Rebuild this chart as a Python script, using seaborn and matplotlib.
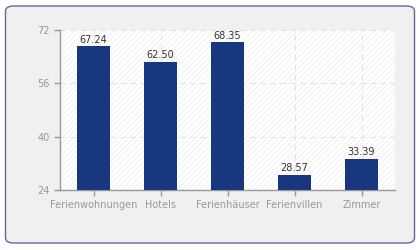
import matplotlib
matplotlib.use("Agg")
import matplotlib.pyplot as plt
import seaborn as sns
import pandas as pd
from matplotlib.patches import FancyBboxPatch, Rectangle

categories = ["Ferienwohnungen", "Hotels", "Ferienhäuser", "Ferienvillen", "Zimmer"]
values = [67.24, 62.50, 68.35, 28.57, 33.39]
yticks = [24, 40, 56, 72]

df = pd.DataFrame({"cat": categories, "val": values})

sns.set_style("white")
plt.rcParams['font.family'] = ['DejaVu Sans']
plt.rcParams['hatch.color'] = '#efefef'
plt.rcParams['hatch.linewidth'] = 0.6

fig = plt.figure(figsize=(4.2, 2.5), dpi=100)
fig.patch.set_facecolor("white")
frame = FancyBboxPatch((5.5 / 420, 7 / 250), 409 / 420, 237 / 250,
                       boxstyle="round,pad=0,rounding_size=0.02",
                       transform=fig.transFigure, facecolor="#f0f0f0",
                       edgecolor="#5b6b9b", linewidth=1.0, zorder=-10)
fig.patches.append(frame)

ax = fig.add_axes([60 / 420, 60 / 250, 335 / 420, 160 / 250])
ax.set_facecolor("white")
ax.add_patch(Rectangle((0, 0), 1, 1, transform=ax.transAxes, facecolor="white",
                       edgecolor="#eeeeee", hatch="//////", linewidth=0, zorder=0))

sns.barplot(data=df, x="cat", y="val", color="#17387f", width=0.5, ax=ax,
            saturation=1, linewidth=0.0, zorder=3)

ax.set_ylim(24, 72)
ax.set_xlim(-0.5, 4.5)
ax.set_yticks(yticks)
ax.set_xlabel("")
ax.set_ylabel("")

ax.grid(True, axis="both", linestyle=(0, (5, 4)), color="#e2e2e2", linewidth=0.8, zorder=1)
ax.set_axisbelow(True)

for s in ["top", "right"]:
    ax.spines[s].set_visible(False)
for s in ["left", "bottom"]:
    ax.spines[s].set_color("#999999")
    ax.spines[s].set_linewidth(1.0)

ax.tick_params(axis="both", colors="#999999", labelcolor="#999999", labelsize=7,
               length=4, width=1, direction="out", left=True, bottom=True)

for i, v in enumerate(values):
    ax.text(i, v + 0.4, f"{v:.2f}", ha="center", va="bottom", fontsize=7, color="#333333", zorder=4)

fig.savefig("out.png", dpi=100, facecolor=fig.get_facecolor())
